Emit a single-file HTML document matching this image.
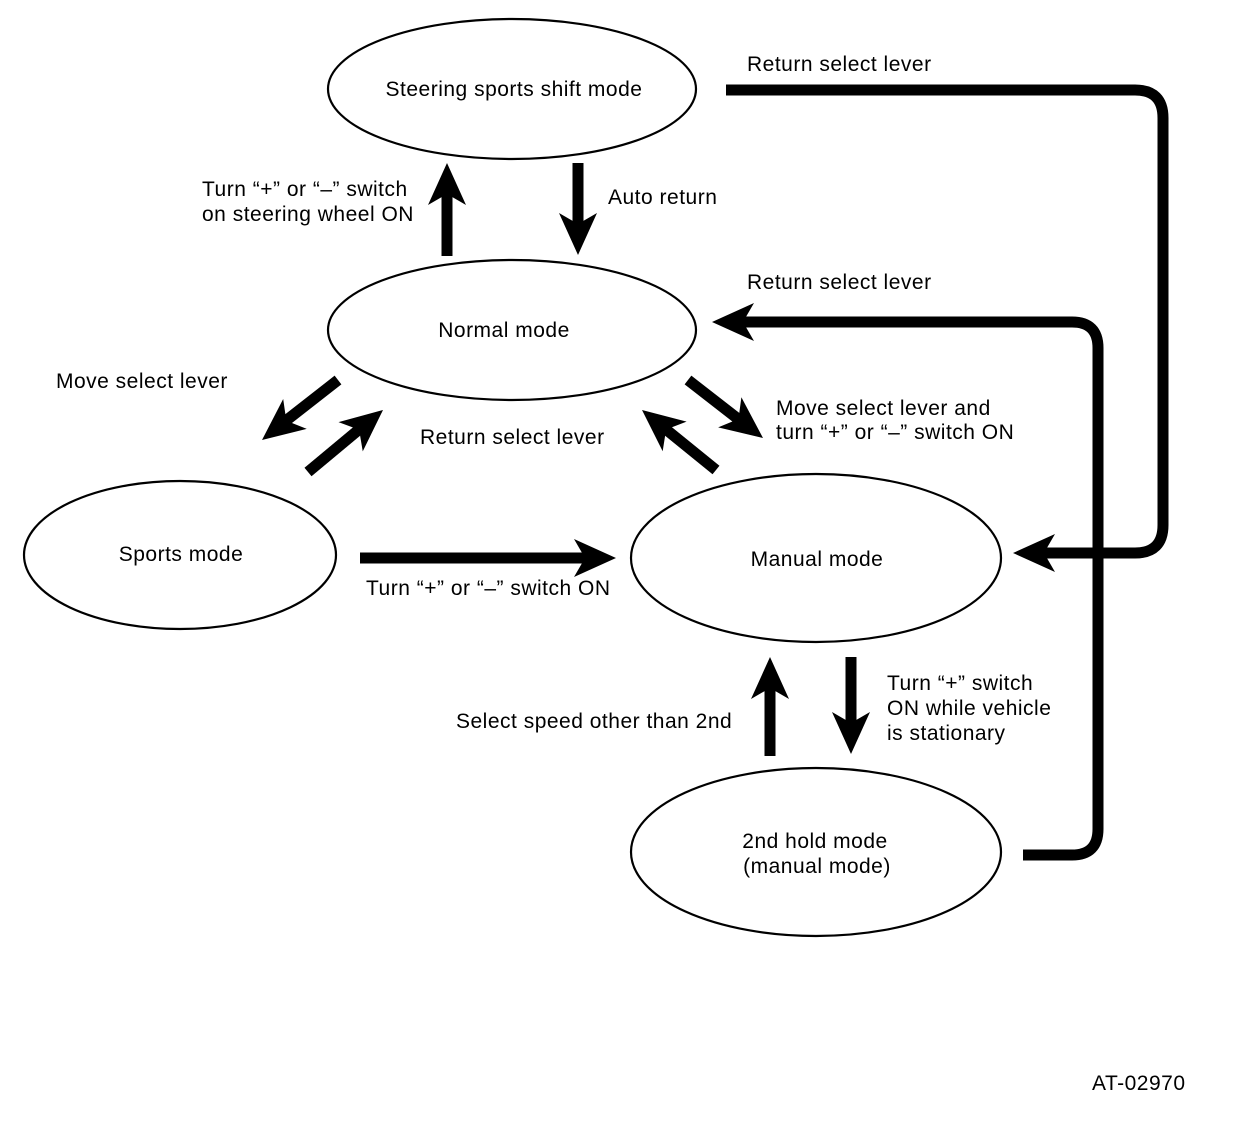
<!DOCTYPE html>
<html><head><meta charset="utf-8"><style>
html,body{margin:0;padding:0;background:#fff}
svg text{font-family:"Liberation Sans",Arial,sans-serif;font-size:21px;letter-spacing:0.5px;fill:#000}
</style></head><body>
<svg width="1248" height="1116" viewBox="0 0 1248 1116" xmlns="http://www.w3.org/2000/svg">
<defs><polygon id="ah" points="0,0 -42,-19 -31,0 -42,19" fill="#000"/></defs>
<g fill="none" stroke="#000" stroke-width="2.2">
<ellipse cx="512" cy="89" rx="184" ry="70"/>
<ellipse cx="512" cy="330" rx="184" ry="70"/>
<ellipse cx="180" cy="555" rx="156" ry="74"/>
<ellipse cx="816" cy="558" rx="185" ry="84"/>
<ellipse cx="816" cy="852" rx="185" ry="84"/>
</g>
<g fill="none" stroke="#000" stroke-width="11">
<line x1="447" y1="256" x2="447" y2="190"/>
<line x1="578" y1="163" x2="578" y2="228"/>
<path d="M726 90 H1135 Q1163 90 1163 118 V525 Q1163 553 1135 553 H1040"/>
<path d="M1023 855 H1072 Q1098 855 1098 829 V348 Q1098 322 1072 322 H740"/>
<line x1="360" y1="558" x2="588" y2="558"/>
<line x1="770" y1="756" x2="770" y2="684"/>
<line x1="851" y1="657" x2="851" y2="726"/>
<line x1="338" y1="380" x2="283" y2="423"/>
<line x1="308" y1="472" x2="362" y2="427"/>
<line x1="688" y1="380" x2="742" y2="422"/>
<line x1="716" y1="470" x2="663" y2="427"/>
</g>
<use href="#ah" transform="translate(447,163) rotate(-90)"/>
<use href="#ah" transform="translate(578,255) rotate(90)"/>
<use href="#ah" transform="translate(1013,553) rotate(180)"/>
<use href="#ah" transform="translate(712,322) rotate(180)"/>
<use href="#ah" transform="translate(616,558)"/>
<use href="#ah" transform="translate(770,657) rotate(-90)"/>
<use href="#ah" transform="translate(851,754) rotate(90)"/>
<use href="#ah" transform="translate(262,440) rotate(141.7)"/>
<use href="#ah" transform="translate(383,410) rotate(-39.6)"/>
<use href="#ah" transform="translate(763,438) rotate(37.7)"/>
<use href="#ah" transform="translate(642,410) rotate(-141)"/>
<text x="514" y="96" text-anchor="middle">Steering sports shift mode</text>
<text x="504" y="337" text-anchor="middle">Normal mode</text>
<text x="181" y="561" text-anchor="middle">Sports mode</text>
<text x="817" y="566" text-anchor="middle">Manual mode</text>
<text x="815" y="848" text-anchor="middle">2nd hold mode</text>
<text x="817" y="873" text-anchor="middle">(manual mode)</text>
<text x="747" y="71">Return select lever</text>
<text x="202" y="196">Turn “+” or “–” switch</text>
<text x="202" y="221">on steering wheel ON</text>
<text x="608" y="204">Auto return</text>
<text x="747" y="289">Return select lever</text>
<text x="56" y="388">Move select lever</text>
<text x="420" y="444">Return select lever</text>
<text x="776" y="415">Move select lever and</text>
<text x="776" y="439">turn “+” or “–” switch ON</text>
<text x="366" y="595">Turn “+” or “–” switch ON</text>
<text x="887" y="690">Turn “+” switch</text>
<text x="887" y="715">ON while vehicle</text>
<text x="887" y="740">is stationary</text>
<text x="456" y="728">Select speed other than 2nd</text>
<text x="1092" y="1090">AT-02970</text>
</svg>
</body></html>
